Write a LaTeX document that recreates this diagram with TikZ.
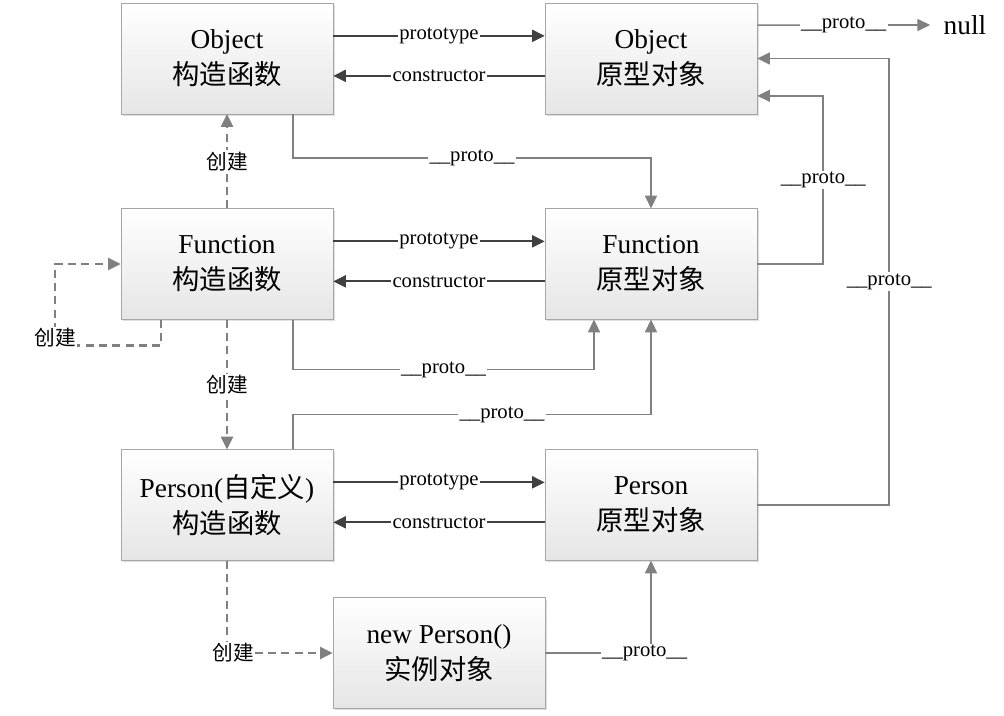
\documentclass[tikz,border=0pt]{standalone}
\usepackage{fontspec}
\setmainfont{Liberation Serif}
\newfontfamily\cjk{Noto Sans CJK SC}
\usetikzlibrary{arrows.meta,shadows}

\tikzset{
  objbox/.style={draw=black!35, top color=white, bottom color=black!10,
    minimum width=159pt, minimum height=83pt, align=center,
    font=\fontsize{20.5}{27}\selectfont,
    drop shadow={shadow xshift=1.5pt, shadow yshift=-1.5pt, fill=black!25}},
  link/.style={draw=black!75, line width=1.6pt, -{Triangle[length=9.5pt,width=9pt]}},
  protolink/.style={draw=black!50, line width=1.2pt, -{Triangle[length=9.5pt,width=9pt]}},
  createlink/.style={protolink, line width=1.8pt, dash pattern=on 6pt off 4pt},
  lbl/.style={fill=white, inner sep=1pt, font=\fontsize{15.5}{16}\selectfont},
}

\begin{document}
\begin{tikzpicture}[x=0.75pt,y=-0.75pt]
\useasboundingbox (0,0) rectangle (1004,716);
%
\node[objbox] (octor) at (227,58.5) {Object\\\cjk 构造函数};
\node[objbox] (oproto) at (651,58.5) {Object\\\cjk 原型对象};
\node[objbox] (fctor) at (227,264) {Function\\\cjk 构造函数};
\node[objbox] (fproto) at (651,264) {Function\\\cjk 原型对象};
\node[objbox] (pctor) at (227,505) {Person({\cjk 自定义})\\\cjk 构造函数};
\node[objbox] (pproto) at (651,505) {Person\\\cjk 原型对象};
\node[objbox] (inst) at (439,653) {new Person()\\\cjk 实例对象};
\node[font=\fontsize{20.5}{24}\selectfont, inner xsep=10pt] (null) at (965,25) {null};
%
\draw[link] ([yshift=17pt]octor.east) -- node[lbl]{prototype} ([yshift=17pt]oproto.west);
\draw[link] ([yshift=-13pt]oproto.west) -- node[lbl]{constructor} ([yshift=-13pt]octor.east);
\draw[link] ([yshift=17pt]fctor.east) -- node[lbl]{prototype} ([yshift=17pt]fproto.west);
\draw[link] ([yshift=-13pt]fproto.west) -- node[lbl]{constructor} ([yshift=-13pt]fctor.east);
\draw[link] ([yshift=17pt]pctor.east) -- node[lbl]{prototype} ([yshift=17pt]pproto.west);
\draw[link] ([yshift=-13pt]pproto.west) -- node[lbl]{constructor} ([yshift=-13pt]pctor.east);
%
\draw[protolink] ([yshift=25pt]oproto.east) -- node[lbl]{\_\_proto\_\_} (null.west);
\draw[protolink] ([xshift=49.5pt]octor.south) -- ++(0,44) -| node[lbl,pos=0.25]{\_\_proto\_\_} (fproto.north);
\draw[protolink] (fproto.east) -- ++(66,0) |- node[lbl,pos=0.25]{\_\_proto\_\_} ([yshift=-28pt]oproto.east);
\draw[protolink] (pproto.east) -- ++(132,0) |- node[lbl,pos=0.25]{\_\_proto\_\_} (oproto.east);
\draw[protolink] ([xshift=49.5pt]fctor.south) -- ++(0,50) -| node[lbl,pos=0.25]{\_\_proto\_\_} ([xshift=-42.75pt]fproto.south);
\draw[protolink] ([xshift=49.5pt]pctor.north) -- ++(0,-35) -| node[lbl,pos=0.292]{\_\_proto\_\_} (fproto.south);
\draw[protolink] (inst.east) -| node[lbl,pos=0.47]{\_\_proto\_\_} (pproto.south);
%
\draw[createlink] (fctor.north) -- node[lbl]{\cjk 创建} (octor.south);
\draw[createlink] ([xshift=-49.5pt]fctor.south) -- ++(0,26) -- ++(-106,0) |- node[lbl,pos=0.05]{\cjk 创建} (fctor.west);
\draw[createlink] (fctor.south) -- node[lbl]{\cjk 创建} (pctor.north);
\draw[createlink] (pctor.south) |- node[lbl,pos=0.53]{\cjk 创建} (inst.west);
\end{tikzpicture}
\end{document}
